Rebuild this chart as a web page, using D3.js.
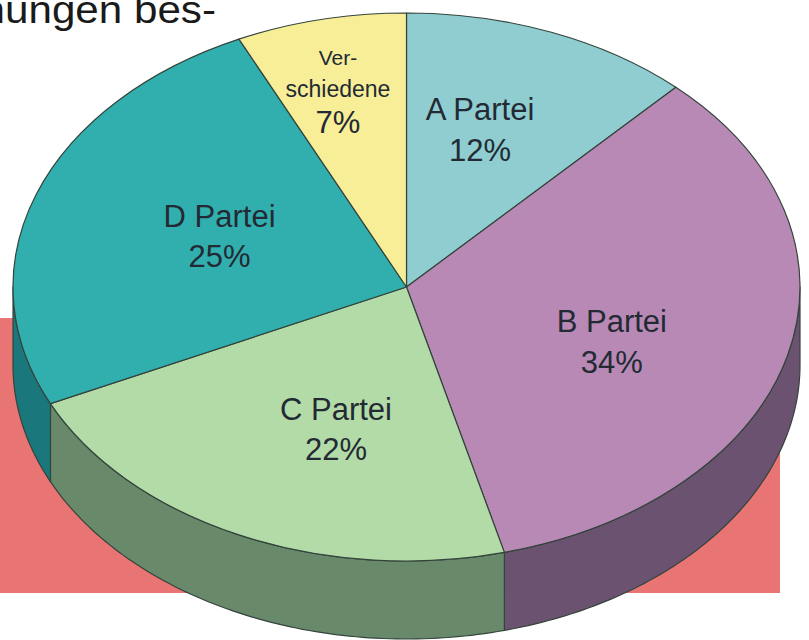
<!DOCTYPE html>
<html><head><meta charset="utf-8">
<script src="https://cdn.jsdelivr.net/npm/d3@7"></script>
<style>html,body{margin:0;padding:0;background:#fff;overflow:hidden}</style>
</head><body>
<svg id="c" width="809" height="640"></svg>
<script>
const categories = ["A Partei", "B Partei", "C Partei", "D Partei", "Verschiedene"];
const labelLines = [["A Partei"], ["B Partei"], ["C Partei"], ["D Partei"], ["Ver-", "schiedene"]];
const values = [12, 34, 22, 25, 7];
const percentLabels = ["12%", "34%", "22%", "25%", "7%"];
const topColors = ["#8fcdd0", "#b889b5", "#b3dba7", "#31afaf", "#f7ee97"];
const sideColors = ["#5d9a9d", "#6a5270", "#688a6b", "#1a787c", "#b5ad60"];

const svg = d3.select("#c");
const cx = 406.5, cy = 287, rx = 393.5, ry = 274, depth = 78;
const stroke = "#34443c";
const font = "Liberation Sans, Arial, Helvetica, sans-serif";

// background block
svg.append("rect").attr("x", 0).attr("y", 318).attr("width", 780).attr("height", 275).attr("fill", "#e97474");

// heading fragment (cut at the page edge, as in the source)
svg.append("text").attr("transform", "translate(216,23) scale(1.11,1)").attr("text-anchor", "end")
  .attr("font-family", font).attr("font-size", 38).attr("fill", "#1a1a1a")
  .text("hungen bes-");

const pie = d3.pie().sort(null).value(d => d)(values);
const ex = t => cx + rx * Math.sin(t);
const ey = t => cy - ry * Math.cos(t);

// sides (visible front half: PI/2 .. 3PI/2)
const gSide = svg.append("g");
pie.forEach((p, i) => {
  const a0 = Math.max(p.startAngle, Math.PI / 2), a1 = Math.min(p.endAngle, 3 * Math.PI / 2);
  if (a1 <= a0) return;
  const n = 80, pts = [];
  for (let k = 0; k <= n; k++) { const t = a0 + (a1 - a0) * k / n; pts.push([ex(t), ey(t)]); }
  const back = pts.slice().reverse().map(([x, y]) => [x, y + depth]);
  gSide.append("path").attr("d", d3.line()(pts.concat(back)) + "Z")
    .attr("fill", sideColors[i]).attr("stroke", stroke).attr("stroke-width", 1.2).attr("stroke-linejoin", "round");
});

// top faces via d3.arc scaled to the ellipse
const arc = d3.arc().innerRadius(0).outerRadius(rx);
const gTop = svg.append("g").attr("transform", `translate(${cx},${cy}) scale(1,${ry / rx})`);
gTop.selectAll("path").data(pie).join("path")
  .attr("d", arc).attr("fill", (d, i) => topColors[i])
  .attr("stroke", stroke).attr("stroke-width", 1.2).attr("vector-effect", "non-scaling-stroke")
  .attr("stroke-linejoin", "round");

// labels placed along each slice's mid angle (radius fraction, angle tweak in degrees)
const labelR = [0.568, 0.574, 0.586, 0.497, 0.715];
const labelDA = [-2.4, 10.2, -7.4, -2.7, -1.5];
const gLab = svg.append("g").attr("font-family", font).attr("fill", "#232a34").attr("text-anchor", "middle");
pie.forEach((p, i) => {
  const mid = (p.startAngle + p.endAngle) / 2 + labelDA[i] * Math.PI / 180;
  const x = cx + rx * labelR[i] * Math.sin(mid);
  const y = cy - ry * labelR[i] * Math.cos(mid);
  const lines = labelLines[i];
  if (lines.length > 1) {
    gLab.append("text").attr("x", x).attr("y", y - 32).attr("font-size", 21).text(lines[0]);
    gLab.append("text").attr("x", x).attr("y", y).attr("font-size", 23).text(lines[1]);
    gLab.append("text").attr("x", x).attr("y", y + 36).attr("font-size", 31).text(percentLabels[i]);
  } else {
    gLab.append("text").attr("x", x).attr("y", y - 20).attr("font-size", 31).text(lines[0]);
    gLab.append("text").attr("x", x).attr("y", y + 20.5).attr("font-size", 31).text(percentLabels[i]);
  }
});
</script>
</body></html>
